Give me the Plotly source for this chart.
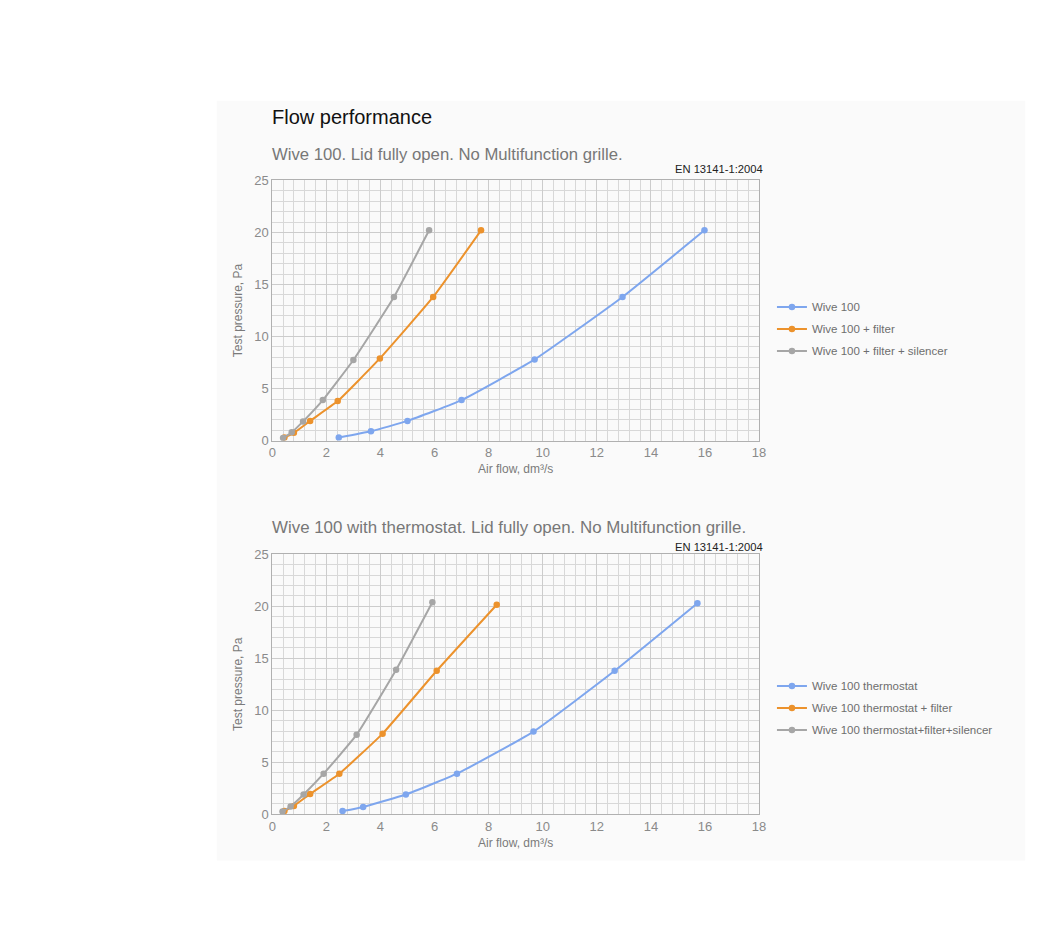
import plotly.graph_objects as go

# ---- Data ----
pressure_a_blue = [0.3, 0.9, 1.9, 3.9, 7.8, 13.8, 20.2]
flow_a_blue = [2.46, 3.65, 5.0, 7.0, 9.7, 12.95, 15.98]
pressure_a_orange = [0.3, 0.75, 1.9, 3.8, 7.9, 13.8, 20.2]
flow_a_orange = [0.45, 0.8, 1.4, 2.42, 3.98, 5.95, 7.72]
pressure_a_grey = [0.25, 0.8, 1.85, 3.9, 7.75, 13.8, 20.2]
flow_a_grey = [0.4, 0.72, 1.14, 1.87, 3.0, 4.5, 5.8]

pressure_b_blue = [0.3, 0.7, 1.9, 3.9, 7.95, 13.8, 20.3]
flow_b_blue = [2.6, 3.36, 4.94, 6.83, 9.66, 12.66, 15.72]
pressure_b_orange = [0.3, 0.8, 1.95, 3.9, 7.75, 13.8, 20.15]
flow_b_orange = [0.45, 0.8, 1.4, 2.48, 4.08, 6.08, 8.3]
pressure_b_grey = [0.25, 0.75, 1.9, 3.9, 7.65, 13.9, 20.4]
flow_b_grey = [0.38, 0.68, 1.16, 1.9, 3.12, 4.58, 5.92]

names_a = ["Wive 100", "Wive 100 + filter", "Wive 100 + filter + silencer"]
names_b = ["Wive 100 thermostat", "Wive 100 thermostat + filter",
           "Wive 100 thermostat+filter+silencer"]

x_ticks = [0, 2, 4, 6, 8, 10, 12, 14, 16, 18]
y_ticks = [0, 5, 10, 15, 20, 25]

main_title = "Flow performance"
subtitle_a = "Wive 100. Lid fully open. No Multifunction grille."
subtitle_b = "Wive 100 with thermostat. Lid fully open. No Multifunction grille."
standard = "EN 13141-1:2004"
x_title = "Air flow, dm³/s"
y_title = "Test pressure, Pa"

colors = ["#7ea6ee", "#ec922c", "#a6a6a6"]
FONT = "Liberation Sans, Arial, sans-serif"

W, H = 1050, 952
OFF = 8  # page margin of the rendered html


def py(p):  # screen pixel y -> paper y
    return 1 - (p - OFF) / H


def px(p):  # screen pixel x -> paper x
    return (p - OFF) / W


fig = go.Figure()

series_a = [(flow_a_blue, pressure_a_blue), (flow_a_orange, pressure_a_orange),
            (flow_a_grey, pressure_a_grey)]
series_b = [(flow_b_blue, pressure_b_blue), (flow_b_orange, pressure_b_orange),
            (flow_b_grey, pressure_b_grey)]

for i, (xs, ys) in enumerate(series_a):
    fig.add_trace(go.Scatter(
        x=xs, y=ys, name=names_a[i], mode="lines+markers",
        line=dict(color=colors[i], width=2, shape="spline", smoothing=0.4),
        marker=dict(color=colors[i], size=6.5),
        xaxis="x", yaxis="y", legend="legend", legendgroup="a%d" % i))
for i, (xs, ys) in enumerate(series_b):
    fig.add_trace(go.Scatter(
        x=xs, y=ys, name=names_b[i], mode="lines+markers",
        line=dict(color=colors[i], width=2, shape="spline", smoothing=0.4),
        marker=dict(color=colors[i], size=6.5),
        xaxis="x2", yaxis="y2", legend="legend2", legendgroup="b%d" % i))


def xaxis(anchor):
    return dict(
        domain=[px(271), px(763)], anchor=anchor, range=[0, 18],
        tickvals=x_ticks, showgrid=True, gridcolor="#cccccc", gridwidth=1,
        minor=dict(dtick=0.4, tick0=0, showgrid=True, gridcolor="#d8d8d8", gridwidth=1),
        showline=True, linecolor="#b0b0b0", linewidth=1, mirror=True,
        zeroline=False, ticks="", tickfont=dict(family=FONT, size=13, color="#8a8a8a"),
        title=dict(text=x_title, font=dict(family=FONT, size=12, color="#7a7a7a"), standoff=5),
        fixedrange=True)


def yaxis(anchor, dom):
    return dict(
        domain=dom, anchor=anchor, range=[0, 25],
        tickvals=y_ticks, showgrid=True, gridcolor="#cccccc", gridwidth=1,
        minor=dict(dtick=1, tick0=0, showgrid=True, gridcolor="#d8d8d8", gridwidth=1),
        showline=True, linecolor="#b0b0b0", linewidth=1, mirror=True,
        zeroline=False, ticks="", tickfont=dict(family=FONT, size=13, color="#8a8a8a"),
        title=dict(text=y_title, font=dict(family=FONT, size=12, color="#7a7a7a"), standoff=8),
        fixedrange=True)


legend_common = dict(
    font=dict(family=FONT, size=11.5, color="#6e6e6e"),
    bgcolor="rgba(0,0,0,0)", xanchor="left", yanchor="middle",
    tracegroupgap=3, itemwidth=30, traceorder="grouped")

fig.update_layout(
    width=W, height=H,
    margin=dict(l=0, r=0, t=0, b=0),
    paper_bgcolor="white", plot_bgcolor="white",
    font=dict(family=FONT),
    xaxis=xaxis("y"),
    yaxis=yaxis("x", [py(440.5), py(176)]),
    xaxis2=xaxis("y2"),
    yaxis2=yaxis("x2", [py(820), py(556)]),
    legend=dict(x=px(776), y=py(327), **legend_common),
    legend2=dict(x=px(776), y=py(712), **legend_common),
    showlegend=True,
    shapes=[dict(type="rect", xref="paper", yref="paper",
                 x0=px(215), x1=px(1032), y0=py(867), y1=py(95),
                 fillcolor="#fafafa", line=dict(width=0), layer="below")],
)

annos = [
    dict(text=main_title, x=px(269), y=py(112), size=20, color="#111111"),
    dict(text=subtitle_a, x=px(269), y=py(150), size=16.7, color="#777777"),
    dict(text=subtitle_b, x=px(269), y=py(529), size=16.9, color="#777777"),
]
for a in annos:
    fig.add_annotation(text=a["text"], xref="paper", yref="paper", x=a["x"], y=a["y"],
                       xanchor="left", yanchor="middle", showarrow=False,
                       font=dict(family=FONT, size=a["size"], color=a["color"]))
for yy in (164, 549):
    fig.add_annotation(text=standard, xref="paper", yref="paper", x=px(769), y=py(yy),
                       xanchor="right", yanchor="middle", showarrow=False,
                       font=dict(family=FONT, size=11.2, color="#222222"))

fig.write_html("out.html")
